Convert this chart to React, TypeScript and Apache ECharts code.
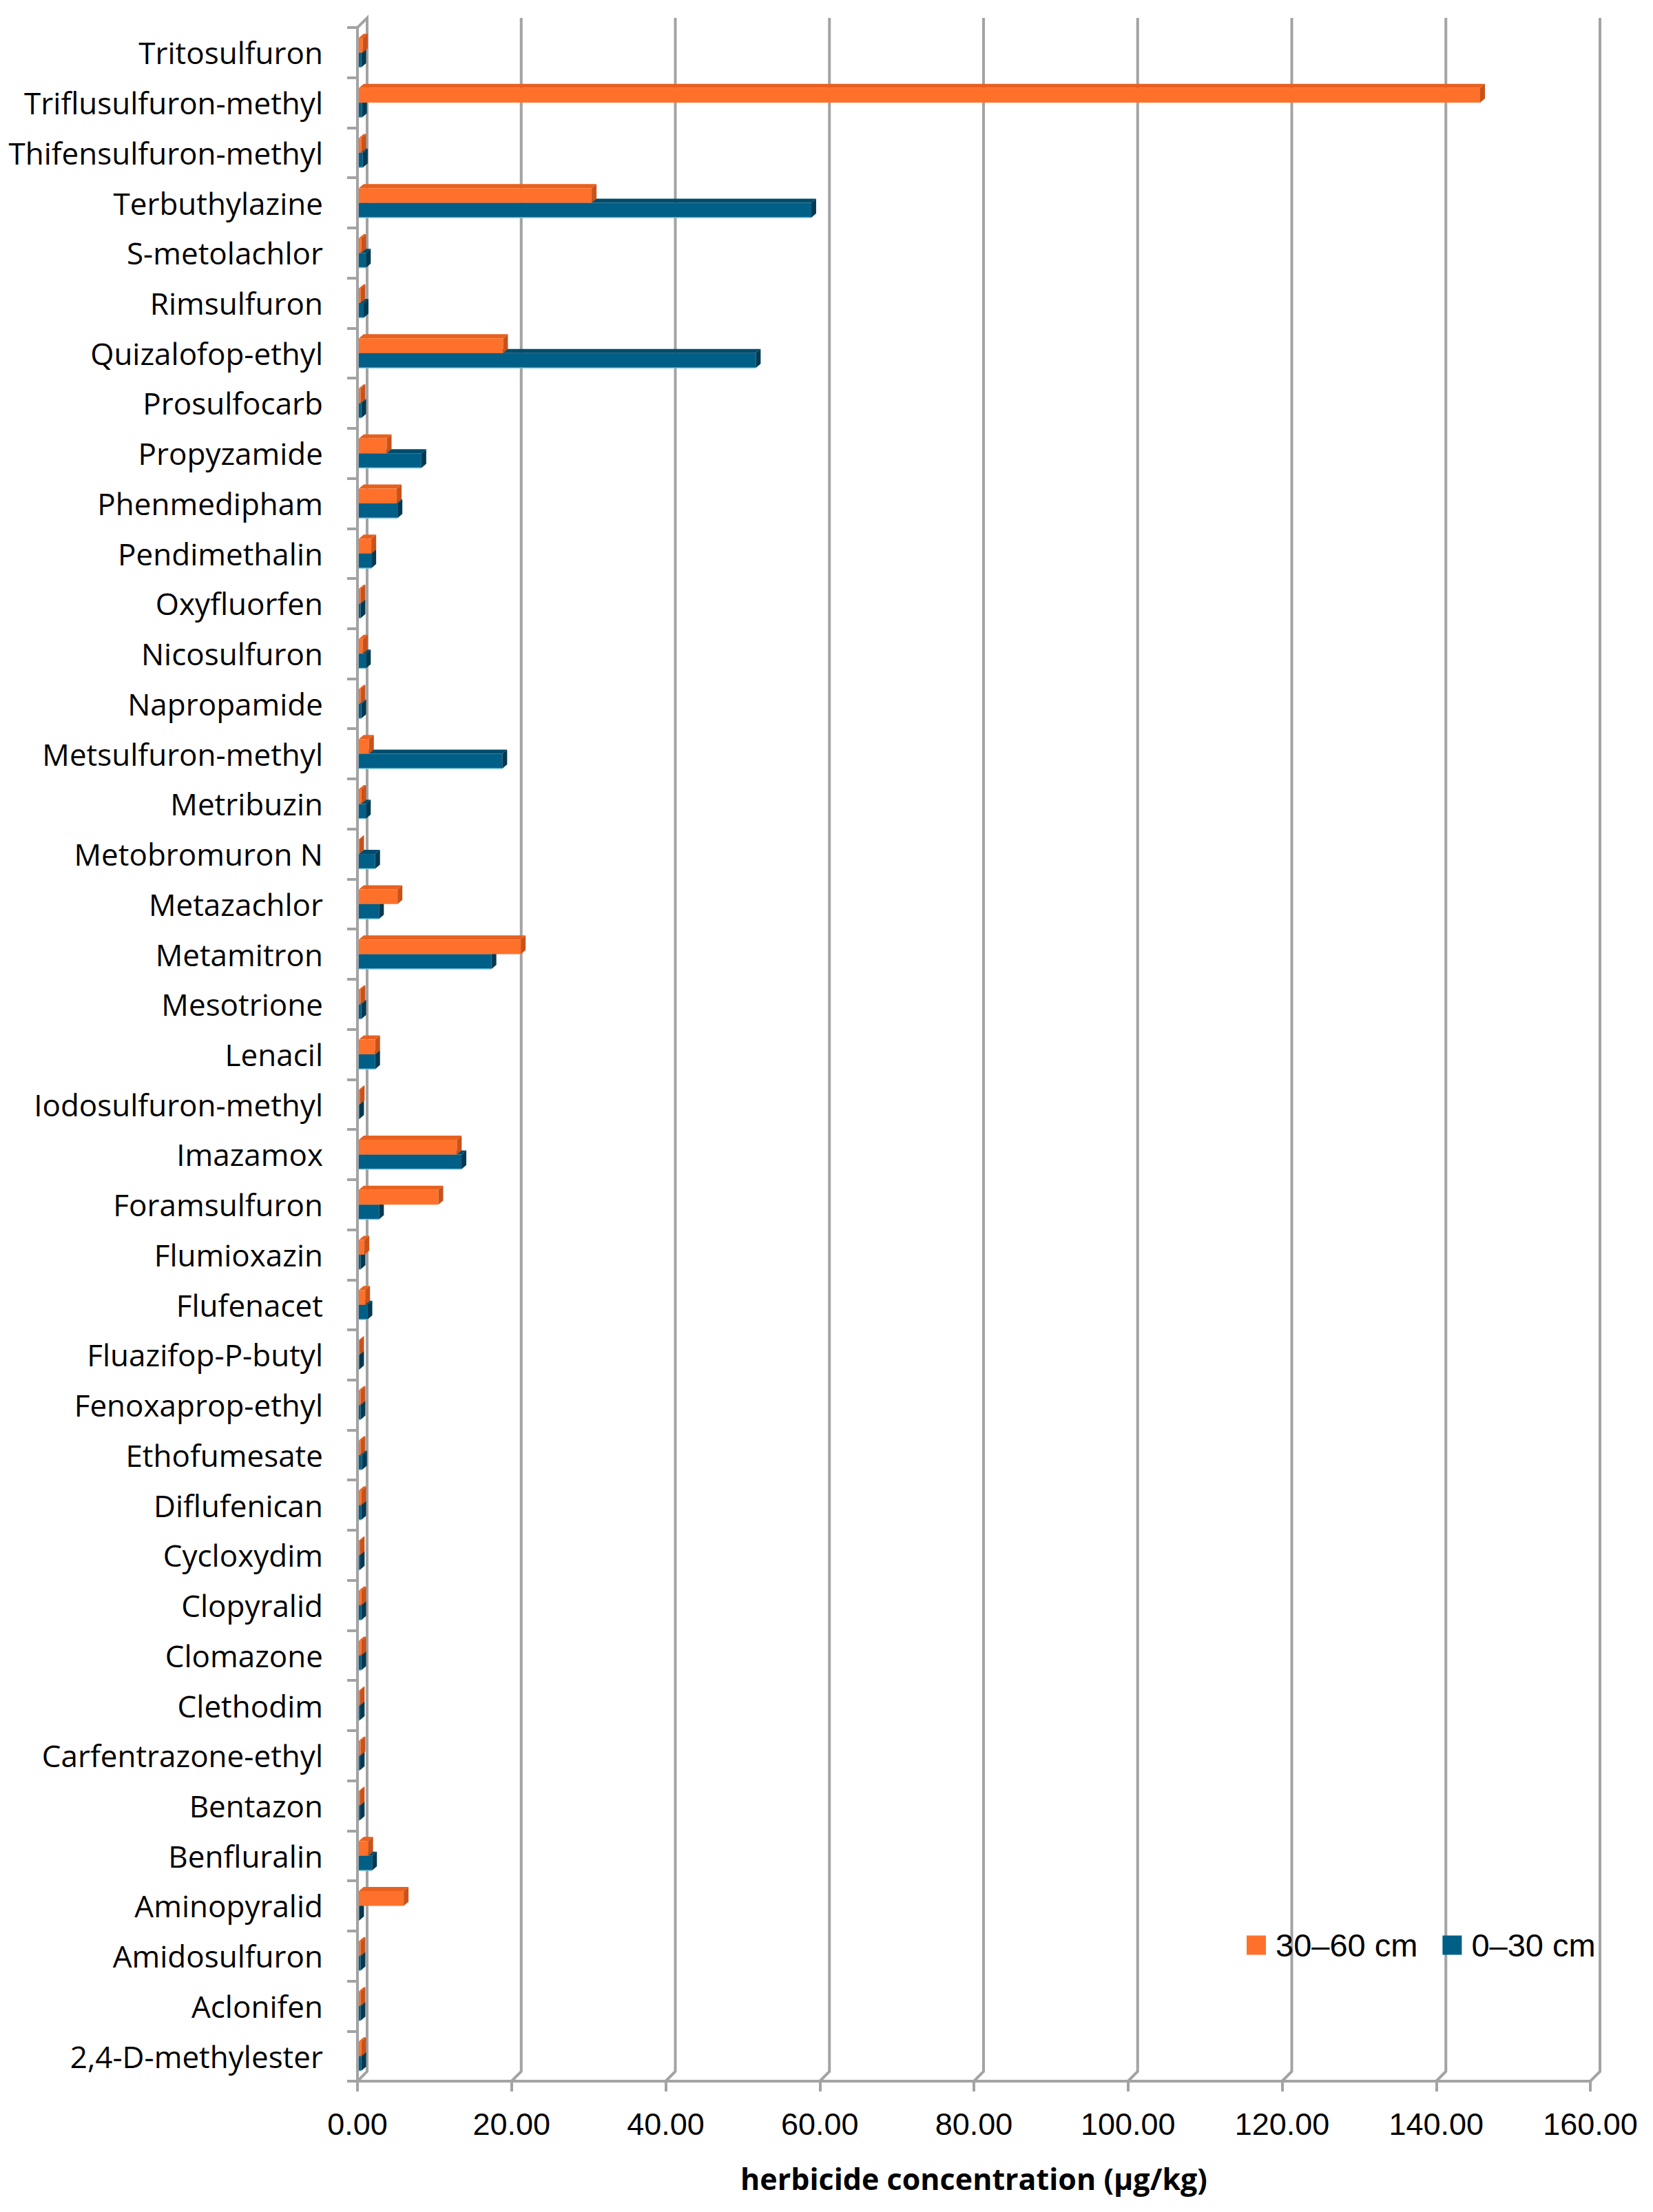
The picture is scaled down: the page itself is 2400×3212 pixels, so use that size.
import React, { useEffect, useRef } from "react";
import * as echarts from "echarts";

const categories = [
  "Tritosulfuron", "Triflusulfuron-methyl", "Thifensulfuron-methyl", "Terbuthylazine",
  "S-metolachlor", "Rimsulfuron", "Quizalofop-ethyl", "Prosulfocarb", "Propyzamide",
  "Phenmedipham", "Pendimethalin", "Oxyfluorfen", "Nicosulfuron", "Napropamide",
  "Metsulfuron-methyl", "Metribuzin", "Metobromuron N", "Metazachlor", "Metamitron",
  "Mesotrione", "Lenacil", "Iodosulfuron-methyl", "Imazamox", "Foramsulfuron",
  "Flumioxazin", "Flufenacet", "Fluazifop-P-butyl", "Fenoxaprop-ethyl", "Ethofumesate",
  "Diflufenican", "Cycloxydim", "Clopyralid", "Clomazone", "Clethodim",
  "Carfentrazone-ethyl", "Bentazon", "Benfluralin", "Aminopyralid", "Amidosulfuron",
  "Aclonifen", "2,4-D-methylester",
];

// 30–60 cm
const deepValues = [
  0.7, 145.7, 0.5, 30.4, 0.5, 0.4, 18.9, 0.4, 3.8, 5.1, 1.8, 0.4, 0.7, 0.4, 1.5, 0.5,
  0.2, 5.2, 21.2, 0.4, 2.3, 0.3, 12.9, 10.5, 0.9, 1.0, 0.1, 0.4, 0.4, 0.5, 0.3, 0.5,
  0.5, 0.3, 0.4, 0.3, 1.4, 6.0, 0.4, 0.4, 0.5,
];

// 0–30 cm
const topsoilValues = [
  0.5, 0.6, 0.7, 58.9, 1.1, 0.8, 51.7, 0.5, 8.3, 5.2, 1.8, 0.4, 1.1, 0.5, 18.8, 1.1,
  2.3, 2.8, 17.4, 0.5, 2.3, 0.2, 13.5, 2.8, 0.4, 1.3, 0.2, 0.4, 0.6, 0.5, 0.3, 0.5,
  0.5, 0.3, 0.3, 0.3, 1.9, 0.2, 0.4, 0.4, 0.5,
];

const xTicks = [0, 20, 40, 60, 80, 100, 120, 140, 160];

const seriesNames = ["30–60 cm", "0–30 cm"];

const AXIS_GRAY = "#A3A3A3";

export default function App() {
  const ref = useRef<HTMLDivElement>(null);

  useEffect(() => {
    document.body.style.margin = "0";
    const chart = echarts.init(ref.current as HTMLDivElement, null, { renderer: "svg" });
    const D = 14;
    const dx = 7;
    const dy = 6;

    const makeBar = (
      name: string,
      values: number[],
      color: string,
      topColor: string,
      sideColor: string,
      upper: boolean
    ) => ({
      type: "custom",
      name,
      coordinateSystem: "cartesian2d",
      itemStyle: { color },
      encode: { x: 0, y: 1 },
      z: 5,
      data: values.map((v, i) => [v, i]),
      renderItem: (params: any, api: any) => {
        const v = api.value(0);
        const idx = api.value(1);
        const p0 = api.coord([0, idx]);
        const p1 = api.coord([v, idx]);
        const band = api.size([0, 1])[1];
        const h = band / 3.4;
        const y0 = upper ? p0[1] - h : p0[1];
        const x0 = p0[0] + 2;
        const x1 = Math.max(p1[0], x0 + 0.5);
        const children: any[] = [
          {
            type: "polygon",
            shape: { points: [[x0, y0], [x1, y0], [x1 + dx, y0 - dy], [x0 + dx, y0 - dy]] },
            style: { fill: topColor },
          },
          {
            type: "rect",
            shape: { x: x0, y: y0, width: x1 - x0, height: h },
            style: { fill: color },
          },
          {
            type: "polygon",
            shape: { points: [[x1, y0], [x1 + dx, y0 - dy], [x1 + dx, y0 + h - dy], [x1, y0 + h]] },
            style: { fill: sideColor },
          },
        ];
        if (!upper) {
          children.push({
            type: "line",
            shape: { x1: x0, y1: y0 + h, x2: x1, y2: y0 + h },
            style: { stroke: "#7FC6DE", lineWidth: 1.5 },
          });
        }
        return { type: "group", children };
      },
    });

    const option: any = {
      animation: false,
      backgroundColor: "#ffffff",
      grid: { left: 519, right: 91, top: 40, bottom: 190, containLabel: false },
      legend: {
        data: seriesNames,
        left: 1810,
        top: 2801,
        icon: "rect",
        itemWidth: 28,
        itemHeight: 28,
        itemGap: 36,
        padding: 0,
        textStyle: {
          fontSize: 47,
          fontFamily: "Liberation Sans",
          color: "#000",
          padding: [0, 0, 0, 9],
        },
      },
      xAxis: {
        type: "value",
        min: 0,
        max: 160,
        interval: 20,
        splitLine: { show: false },
        axisLine: { show: true, lineStyle: { color: AXIS_GRAY, width: 4 } },
        axisTick: { show: true, length: 15, lineStyle: { color: AXIS_GRAY, width: 4 } },
        axisLabel: {
          formatter: (v: number) => v.toFixed(2),
          fontSize: 45,
          fontFamily: "Liberation Sans",
          color: "#000",
          margin: 40,
        },
        name: "herbicide concentration (µg/kg)",
        nameLocation: "middle",
        nameGap: 120,
        nameTextStyle: {
          fontSize: 43,
          fontWeight: "bold",
          fontFamily: "Open Sans",
          color: "#000",
        },
      },
      yAxis: {
        type: "category",
        data: categories,
        inverse: true,
        axisLine: { show: true, lineStyle: { color: AXIS_GRAY, width: 4 } },
        axisTick: { show: true, length: 15, lineStyle: { color: AXIS_GRAY, width: 4 } },
        axisLabel: {
          fontSize: 44,
          fontFamily: "Open Sans",
          color: "#000",
          margin: 50,
        },
        splitLine: { show: false },
      },
      series: [
        {
          type: "custom",
          name: "wall",
          coordinateSystem: "cartesian2d",
          silent: true,
          z: 1,
          encode: { x: 0, y: 1 },
          data: xTicks.map((v) => [v, 0]),
          renderItem: (params: any, api: any) => {
            const v = api.value(0);
            const x = api.coord([v, 0])[0];
            const cs = params.coordSys;
            const top = cs.y;
            const bottom = cs.y + cs.height;
            const pts: number[][] = [
              [x + D, top - D],
              [x + D, bottom - D],
              [x, bottom],
            ];
            if (v === 0) pts.unshift([x, top]);
            return {
              type: "polyline",
              shape: { points: pts },
              style: { stroke: AXIS_GRAY, lineWidth: 4, fill: null },
            };
          },
        },
        makeBar(seriesNames[1], topsoilValues, "#005F86", "#004C6C", "#003A52", false),
        makeBar(seriesNames[0], deepValues, "#FF712A", "#E8601E", "#C9521A", true),
      ],
    };

    chart.setOption(option);
    return () => chart.dispose();
  }, []);

  return <div ref={ref} style={{ width: 2400, height: 3212 }} />;
}
